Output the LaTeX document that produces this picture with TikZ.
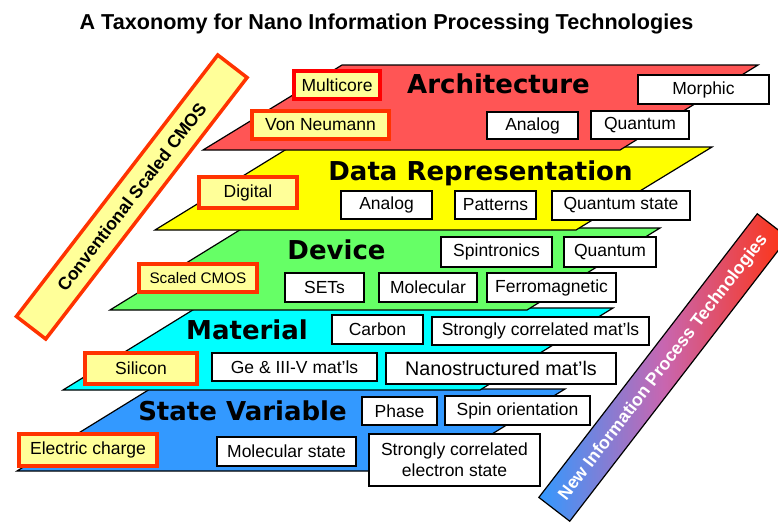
\documentclass[tikz,border=0pt]{standalone}
\usepackage{fontspec}
\setmainfont{Liberation Sans}
\newfontfamily\layerfont{DejaVu Sans}
\usepackage{tikz}
\usetikzlibrary{positioning}
\definecolor{cArch}{HTML}{FF5555}
\definecolor{cData}{HTML}{FFFF00}
\definecolor{cDev}{HTML}{66FF66}
\definecolor{cMat}{HTML}{00FFFF}
\definecolor{cState}{HTML}{3399FF}
\definecolor{cOld}{HTML}{FFFF99}
\definecolor{cOldEdge}{HTML}{FF3300}
\definecolor{cMulti}{HTML}{FF0000}
\definecolor{cNewLo}{HTML}{3399FF}
\definecolor{cNewMid}{HTML}{C866B0}
\definecolor{cNewHi}{HTML}{FF3311}
\definecolor{cInk}{HTML}{000000}
\tikzset{
  layer/.style  = {draw=cInk, line width=1.2pt},
  cell/.style   = {draw=cInk, fill=white, line width=1.6pt, inner sep=0pt,
                   align=center, font=\fontsize{17.5}{21}\selectfont},
  old/.style    = {cell, fill=cOld, draw=cOldEdge, line width=3.5pt},
  ltitle/.style = {anchor=base, font=\layerfont\bfseries\fontsize{26}{30}\selectfont},
  banner/.style = {rotate=52.4, inner sep=0pt, font=\bfseries\fontsize{17.7}{20}\selectfont},
}

\begin{document}
\begin{tikzpicture}[x=1pt, y=-1pt]
  \useasboundingbox (0,0) rectangle (778,522);
  \node[anchor=base, font=\bfseries\fontsize{21.6}{24}\selectfont] (title) at (386.5,29)
    {A Taxonomy for Nano Information Processing Technologies};

  \draw[layer, fill=cState] (150,389) -- (565,389) -- (432,471) -- (17,471) -- cycle;
  \draw[layer, fill=cMat] (196,308) -- (613,308) -- (480,390) -- (63,390) -- cycle;
  \draw[layer, fill=cDev] (243,228) -- (660,228) -- (527,310) -- (110,310) -- cycle;
  \draw[layer, fill=cData] (290,147) -- (712,147) -- (576,230) -- (155,230) -- cycle;
  \draw[layer, fill=cArch] (342,65) -- (758,65) -- (620,150) -- (203,150) -- cycle;

  \node[ltitle] (tarch) at (498.5,93) {Architecture};
  \node[ltitle] (tdata) at (480.5,180) {Data Representation};
  \node[ltitle] (tdev) at (336.5,259) {Device};
  \node[ltitle] (tmat) at (247,339) {Material};
  \node[ltitle] (tstate) at (242.5,420) {State Variable};

  \node[old, draw=cMulti, minimum width=86, minimum height=28] (multicore) at (337,85) {Multicore};
  \node[old, minimum width=137, minimum height=28] (vonneumann) at (320.5,125) {Von Neumann};
  \node[cell, minimum width=131, minimum height=29] (morphic) at (703.5,89.5) {Morphic};
  \node[cell, minimum width=91, minimum height=27] (aanalog) at (532.5,125.5) {Analog};
  \node[cell, minimum width=98, minimum height=28] (aquantum) at (640,125) {Quantum};

  \node[old, minimum width=98, minimum height=31] (digital) at (248,192.5) {Digital};
  \node[cell, minimum width=91, minimum height=28] (danalog) at (386.5,205) {Analog};
  \node[cell, minimum width=81, minimum height=28] (patterns) at (495.5,205) {Patterns};
  \node[cell, minimum width=138, minimum height=29] (qstate) at (621,205.5) {Quantum state};

  \node[old, minimum width=118, minimum height=28, font=\fontsize{15.3}{18}\selectfont]
    (scmos) at (198,278) {Scaled CMOS};
  \node[cell, minimum width=79, minimum height=29] (sets) at (324.5,287.5) {SETs};
  \node[cell, minimum width=98, minimum height=29] (molecular) at (428,287.5) {Molecular};
  \node[cell, minimum width=129, minimum height=29] (ferro) at (551.5,287.5) {Ferromagnetic};
  \node[cell, minimum width=111, minimum height=30] (spintr) at (496.5,252) {Spintronics};
  \node[cell, minimum width=92, minimum height=30] (dquantum) at (610,252) {Quantum};

  \node[old, minimum width=112, minimum height=31] (silicon) at (141,368.5) {Silicon};
  \node[cell, minimum width=165, minimum height=28] (gemat) at (294.5,367) {Ge \& III-V mat'ls};
  \node[cell, minimum width=230, minimum height=31, font=\fontsize{19.7}{23}\selectfont]
    (nanomat) at (501,368.5) {Nanostructured mat'ls};
  \node[cell, minimum width=91, minimum height=29] (carbon) at (377.5,329.5) {Carbon};
  \node[cell, minimum width=217, minimum height=28] (scmat) at (540.5,331) {Strongly correlated mat'ls};

  \node[old, minimum width=138, minimum height=32] (charge) at (88,450) {Electric charge};
  \node[cell, minimum width=139, minimum height=29] (molstate) at (286.5,451.5) {Molecular state};
  \node[cell, minimum width=75, minimum height=28] (phase) at (399.5,411) {Phase};
  \node[cell, minimum width=145, minimum height=29] (spinor) at (517.5,410.5) {Spin orientation};
  \node[cell, minimum width=171, minimum height=52] (scelec) at (454.5,460)
    {Strongly correlated\\ electron state};

  \node[old, banner, minimum width=330, minimum height=37] (oldtech) at (131.75,197)
    {Conventional Scaled CMOS};
  \node[banner, draw=cInk, line width=1.2pt, text=white, left color=cNewLo,
        right color=cNewHi, middle color=cNewMid, minimum width=358, minimum height=39]
    (newtech) at (663.5,367.5) {New Information Process Technologies};
\end{tikzpicture}
\end{document}
